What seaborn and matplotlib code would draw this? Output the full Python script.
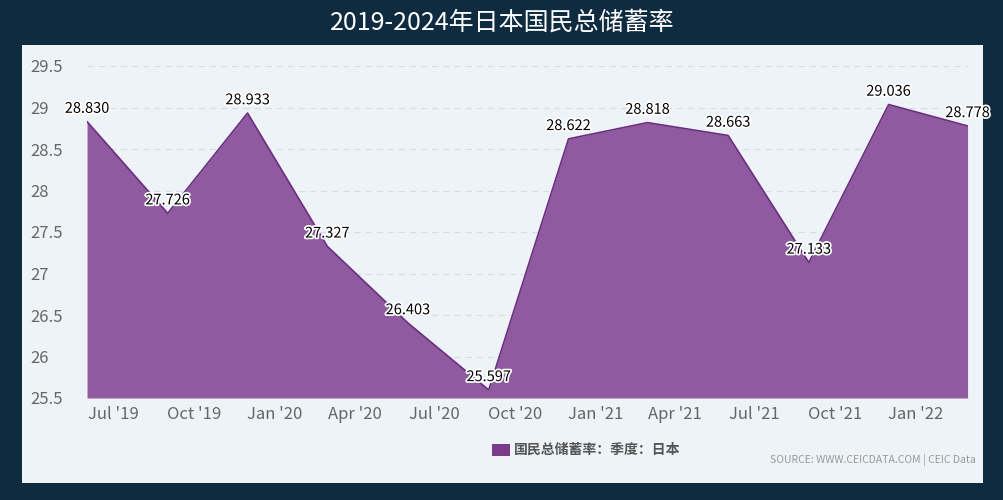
import matplotlib
matplotlib.use("Agg")
import matplotlib.pyplot as plt
import matplotlib.patheffects as pe
from matplotlib.patches import Rectangle
import seaborn as sns
import pandas as pd

dates = ["2019-06-01","2019-09-01","2019-12-01","2020-03-01","2020-06-01","2020-09-01",
         "2020-12-01","2021-03-01","2021-06-01","2021-09-01","2021-12-01","2022-03-01"]
values = [28.830,27.726,28.933,27.327,26.403,25.597,28.622,28.818,28.663,27.133,29.036,28.778]
tick_dates = ["2019-07-01","2019-10-01","2020-01-01","2020-04-01","2020-07-01","2020-10-01",
              "2021-01-01","2021-04-01","2021-07-01","2021-10-01","2022-01-01"]
tick_labels = ["Jul '19","Oct '19","Jan '20","Apr '20","Jul '20","Oct '20",
               "Jan '21","Apr '21","Jul '21","Oct '21","Jan '22"]
yticks = [25.5,26,26.5,27,27.5,28,28.5,29,29.5]
series_name = "国民总储蓄率：季度：日本"

sns.set_theme(style="white")
plt.rcParams['font.family'] = ['Noto Sans CJK SC', 'DejaVu Sans']

df = pd.DataFrame({"date": pd.to_datetime(dates), "value": values})

fig = plt.figure(figsize=(10.04, 5.0), dpi=100, facecolor="#0f2b40")
bg = fig.add_axes([0.0219, 0.034, 0.957, 0.876], zorder=-1)
bg.set_facecolor("#eef3f7")
bg.set_xticks([]); bg.set_yticks([])
for s in bg.spines.values():
    s.set_visible(False)

ax = fig.add_axes([0.0867, 0.204, 0.877, 0.664], zorder=1)
ax.set_facecolor("none")
fill_c = "#8f5a9f"
line_c = "#6b2e80"
ax.fill_between(df["date"], values, 25.5, color=fill_c, lw=0, zorder=2)
sns.lineplot(data=df, x="date", y="value", ax=ax, color=line_c, lw=1.2, zorder=3)
ax.set_xlim(df["date"].iloc[0], df["date"].iloc[-1])
ax.set_ylim(25.5, 29.5)
ax.set_yticks(yticks)
ax.set_yticklabels([f"{v:g}" for v in yticks])
ax.set_xticks(pd.to_datetime(tick_dates))
ax.set_xticklabels(tick_labels)
ax.tick_params(axis="both", colors="#666666", labelsize=12, length=0)
ax.tick_params(axis="x", pad=6)
ax.tick_params(axis="y", pad=41)
for t in ax.get_yticklabels():
    t.set_horizontalalignment("left")
ax.yaxis.grid(True, color="#d6dde3", ls=(0, (6, 4)), lw=0.8)
ax.set_axisbelow(True)
for s in ax.spines.values():
    s.set_visible(False)
ax.set_xlabel(""); ax.set_ylabel("")
for d, v in zip(df["date"], values):
    ax.text(d, v + 0.07, f"{v:.3f}", ha="center", va="bottom", fontsize=10.5, color="black",
            zorder=5, path_effects=[pe.withStroke(linewidth=2.5, foreground="white")], clip_on=False)

fig.text(0.5, 0.955, "2019-2024年日本国民总储蓄率", color="white", fontsize=18, ha="center", va="center")
fig.patches.append(Rectangle((0.490, 0.088), 0.018, 0.024, transform=fig.transFigure,
                             facecolor="#7b3a8c", edgecolor="none", zorder=3))
fig.text(0.512, 0.100, series_name, color="#555555", fontsize=10, ha="left", va="center", fontweight="bold")
fig.text(0.972, 0.080, "SOURCE: WWW.CEICDATA.COM | CEIC Data", color="#999999", fontsize=7.5, ha="right", va="center")
fig.savefig("out.png", dpi=100, facecolor=fig.get_facecolor())
